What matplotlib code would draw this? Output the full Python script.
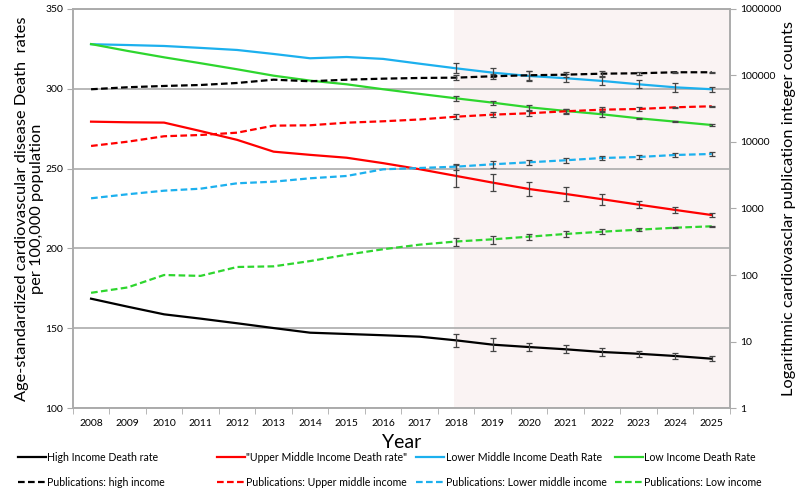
import matplotlib.pyplot as plt
import numpy as np
from matplotlib.lines import Line2D
from matplotlib.ticker import FixedLocator, NullLocator

plt.rcParams['font.family'] = ['Lato', 'DejaVu Sans']

years = np.arange(2008, 2026)
err_years = np.arange(2018, 2026)

# death rates per 100,000 (left axis)
high_death = [168.5, 163.5, 158.7, 156.0, 153.1, 150.1, 147.2, 146.4, 145.6, 144.7,
              142.4, 139.7, 138.2, 136.8, 135.1, 134.0, 132.6, 130.9]
upper_death = [279.4, 279.0, 278.8, 273.5, 268.0, 260.6, 258.6, 256.8, 253.4, 249.6,
               245.4, 241.2, 237.2, 234.1, 230.8, 227.4, 224.1, 220.9]
lower_death = [327.9, 327.4, 326.8, 325.6, 324.3, 321.8, 319.1, 319.9, 318.7, 315.7,
               312.8, 310.1, 308.0, 306.6, 304.9, 302.8, 300.9, 299.7]
low_death = [328.0, 323.7, 319.7, 316.0, 312.2, 308.2, 305.1, 302.8, 299.7, 296.8,
             294.0, 291.3, 288.4, 286.1, 284.0, 281.5, 279.4, 277.3]

# publication counts (right, log axis)
high_pubs = [62000, 66500, 69500, 71900, 77100, 86400, 81800, 86400, 89500, 91700,
             92700, 97300, 100700, 102800, 106400, 107900, 111700, 111700]
upper_pubs = [8710, 10100, 12190, 12740, 13800, 17590, 17830, 19500, 20470, 21800,
              23990, 25750, 27020, 28950, 30600, 31350, 33240, 34410]
lower_pubs = [1423, 1636, 1852, 1985, 2393, 2530, 2845, 3083, 3883, 4064,
              4254, 4620, 4950, 5309, 5746, 5946, 6378, 6600]
low_pubs = [54, 65, 100, 97, 132, 135, 162, 202, 244, 286,
            319, 344, 377, 414, 448, 480, 514, 540]

# error bars 2018-2025
high_death_err = [4.0, 4.0, 2.6, 2.6, 2.2, 2.0, 1.9, 1.4]
upper_death_err = [7.1, 5.2, 4.6, 4.2, 3.5, 2.3, 1.7, 1.1]
lower_death_err = [3.1, 3.0, 2.9, 2.4, 2.8, 2.4, 2.7, 1.7]
low_death_err = [1.4, 1.2, 1.6, 1.2, 1.8, 0.4, 0.4, 0.4]
high_pubs_err = [8000, 9500, 16000, 8000, 12000, 6500, 1500, 1500]
upper_pubs_err = [2000, 2200, 2500, 2200, 2800, 1900, 500, 300]
lower_pubs_err = [430, 580, 450, 480, 400, 360, 420, 460]
low_pubs_err = [45, 48, 36, 40, 40, 23, 8, 8]

labels_death = ['High Income Death rate', '"Upper Middle Income Death rate"',
                'Lower Middle Income Death Rate', 'Low Income Death Rate']
labels_pubs = ['Publications: high income', 'Publications: Upper middle income',
               'Publications: Lower middle income', 'Publications: Low income']
colors = ['#000000', '#FF0000', '#1CB0EE', '#2ED62E']

deaths = [high_death, upper_death, lower_death, low_death]
pubs = [high_pubs, upper_pubs, lower_pubs, low_pubs]
death_errs = [high_death_err, upper_death_err, lower_death_err, low_death_err]
pub_errs = [high_pubs_err, upper_pubs_err, lower_pubs_err, low_pubs_err]

grey = '#ABABAB'
dash = (0, (3, 1.5))

fig = plt.figure(figsize=(8, 4.97), dpi=100)
ax = fig.add_axes([0.091, 0.179, 0.8215, 0.803])
ax2 = ax.twinx()

ax.axvspan(2017.95, 2025.5, color='#FAF3F3', lw=0, zorder=0)
ax.set_xlim(2007.5, 2025.5)
ax.set_ylim(100, 350)
ax.set_yticks([100, 150, 200, 250, 300, 350])
ax.grid(axis='y', color=grey, lw=1.2)
ax.set_axisbelow(True)

n = len(err_years)
for d, e, c in zip(deaths, death_errs, colors):
    ax.plot(years, d, color=c, lw=1.6, zorder=3)
    ax.errorbar(err_years, d[-n:], yerr=e, fmt='none', ecolor='#444444',
                elinewidth=0.9, capsize=2.2, capthick=0.9, zorder=4)

ax2.set_yscale('log')
ax2.set_ylim(1, 1e6)
for p, e, c in zip(pubs, pub_errs, colors):
    ax2.plot(years, p, color=c, lw=1.6, linestyle=dash)
    ax2.errorbar(err_years, p[-n:], yerr=e, fmt='none', ecolor='#444444',
                 elinewidth=0.9, capsize=2.2, capthick=0.9)
ax2.yaxis.set_major_locator(FixedLocator([1, 10, 100, 1000, 10000, 100000, 1000000]))
ax2.yaxis.set_minor_locator(NullLocator())
ax2.set_yticklabels(['1', '10', '100', '1000', '10000', '100000', '1000000'])

ax.set_xticks(years)
ax.set_xticklabels([str(y) for y in years])
ax.set_xticks(np.arange(2007.5, 2026, 1), minor=True)
ax.tick_params(axis='x', which='major', length=0, pad=8, labelsize=7.5)
ax.tick_params(axis='x', which='minor', length=4, color=grey)
ax.tick_params(axis='y', length=4, color=grey, labelsize=7.5, pad=3)
ax2.tick_params(axis='y', length=4, color=grey, labelsize=7.5, pad=3)
for a in (ax, ax2):
    for s in a.spines.values():
        s.set_color(grey)
        s.set_linewidth(1.2)

ax.set_xlabel('Year', fontsize=14)
ax.xaxis.set_label_coords(0.5, -0.066)
ax.set_ylabel('Age-standardized cardiovascular disease Death  rates\nper 100,000 population',
              fontsize=11.8, linespacing=1.1)
ax.yaxis.set_label_coords(-0.044, 0.5)
ax2.set_ylabel('Logarithmic cardiovasclar publication integer counts', fontsize=11.8)
ax2.yaxis.set_label_coords(1.079, 0.5)

col_x = [0.016, 0.265, 0.514, 0.7625]
for i in range(4):
    handles = [Line2D([], [], color=colors[i], lw=1.6),
               Line2D([], [], color=colors[i], lw=1.6, linestyle=dash)]
    fig.legend(handles, [labels_death[i], labels_pubs[i]], loc='upper left',
               bbox_to_anchor=(col_x[i], 0.101), frameon=False, fontsize=7.6,
               borderpad=0, handlelength=2.6, handletextpad=0.15, labelspacing=1.3)

fig.savefig('out.png', dpi=100)
